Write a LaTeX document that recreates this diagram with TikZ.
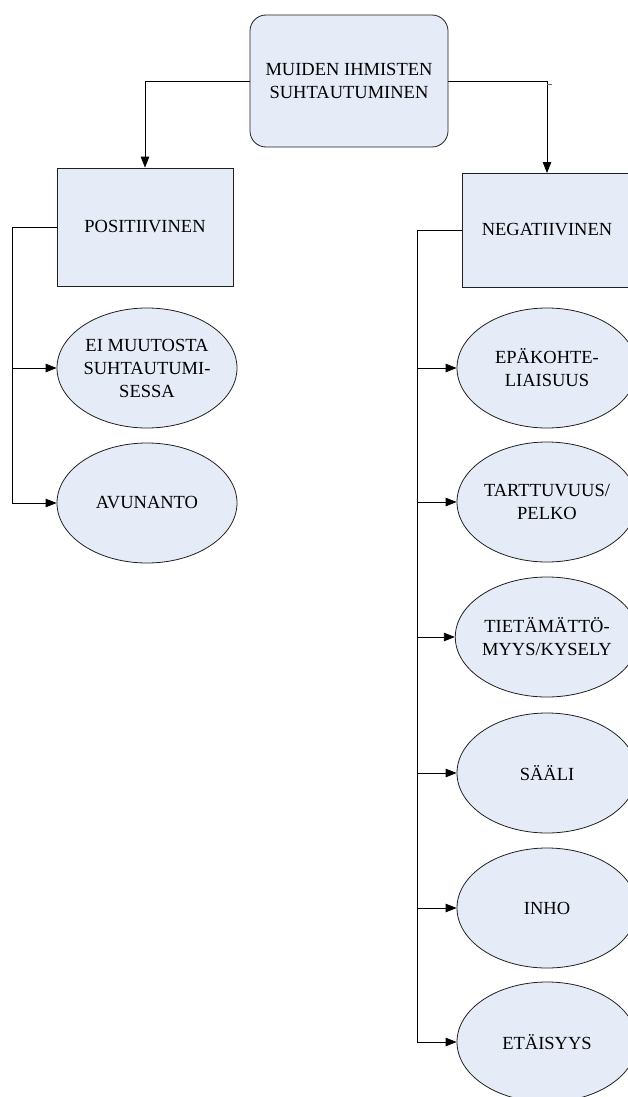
\documentclass[tikz,border=0pt]{standalone}
\usepackage{fontspec}
\setmainfont{Liberation Serif}
\usetikzlibrary{shapes.geometric,arrows.meta}
\definecolor{boxfill}{HTML}{E6ECF7}
\definecolor{boxline}{HTML}{202020}
\tikzset{
  every node/.style={font=\fontsize{18.5}{23}\selectfont, align=center, text=black},
  base/.style={draw=boxline, line width=0.8pt, fill=boxfill, inner sep=0pt},
  rbox/.style={base, rectangle, rounded corners=16pt, minimum width=198pt, minimum height=132pt},
  sbox/.style={base, rectangle, minimum width=176pt, minimum height=118pt},
  oval/.style={base, ellipse, minimum width=180pt, minimum height=120pt},
  conn/.style={line width=0.8pt, draw=black},
  arr/.style={conn, -{Triangle[length=11pt,width=8.5pt]}},
}
\begin{document}
\begin{tikzpicture}[x=1pt,y=-1pt]
\clip (0,0) rectangle (628,1097);
\useasboundingbox (0,0) rectangle (628,1097);
\fill[white] (0,0) rectangle (628,1097);

\node[rbox] (top) at (349,81) {MUIDEN IHMISTEN\\SUHTAUTUMINEN};
\node[sbox] (pos) at (145,227) {POSITIIVINEN};
\node[sbox, minimum width=170pt, minimum height=114pt, anchor=north west] (neg) at (462,173) {};
\node at (547,230) {NEGATIIVINEN};

\node[oval] (p1) at (147,368) {EI MUUTOSTA\\SUHTAUTUMI-\\SESSA};
\node[oval] (p2) at (147,503) {AVUNANTO};

\node[oval] (n1) at (547,368) {EPÄKOHTE-\\LIAISUUS};
\node[oval] (n2) at (547,502) {TARTTUVUUS/\\PELKO};
\node[oval] (n3) at (547,637) {TIETÄMÄTTÖ-\\MYYS/KYSELY};
\node[oval] (n4) at (547,773) {SÄÄLI};
\node[oval] (n5) at (547,908) {INHO};
\node[oval] (n6) at (547,1042) {ETÄISYYS};

% top connectors
\draw[arr] (top.west) -| (pos.north);
\coordinate (nt) at (547,173);
\draw[arr] (top.east) -| (nt);
\coordinate (tk1) at (547,84);
\coordinate (tk2) at (552,84);
\draw[line width=0.6pt, draw=black!60] (tk1) -- (tk2);

% positive branch
\coordinate (pl) at (12,227);
\coordinate (pb) at (12,503);
\draw[conn] (pos.west) -- (pl) -- (pb);
\draw[arr] (12,368) -- (p1.west);
\draw[arr] (pb) -- (p2.west);

% negative branch
\coordinate (nl) at (417,230);
\coordinate (nb) at (417,1042);
\draw[conn] (neg.west |- nl) -- (nl) -- (nb);
\draw[arr] (417,368) -- (n1.west);
\draw[arr] (417,502) -- (n2.west);
\draw[arr] (417,637) -- (n3.west);
\draw[arr] (417,773) -- (n4.west);
\draw[arr] (417,908) -- (n5.west);
\draw[arr] (nb) -- (n6.west);
\end{tikzpicture}
\end{document}
